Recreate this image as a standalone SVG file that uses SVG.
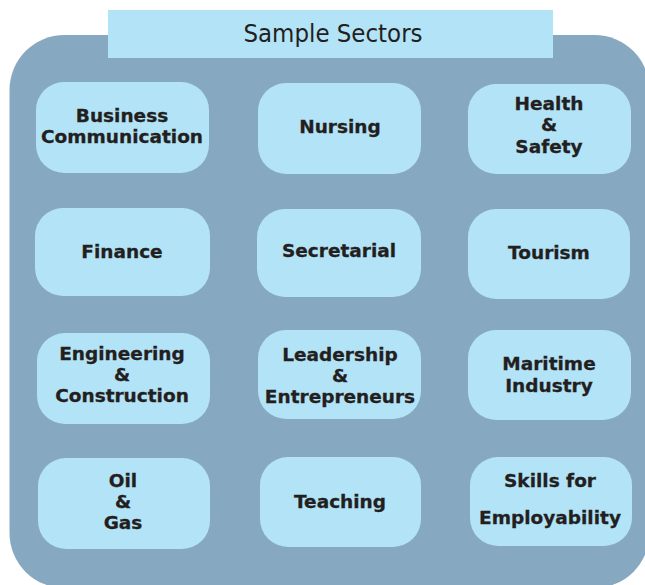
<svg xmlns="http://www.w3.org/2000/svg" width="645" height="585" viewBox="0 0 645 585">
<style>
.box{fill:#b3e3f7;}
.lbl{font-family:"DejaVu Sans","Verdana",sans-serif;font-weight:bold;font-size:18.5px;fill:#231f20;text-anchor:middle;stroke:#231f20;stroke-width:0.3px;}
.title{font-family:"DejaVu Sans Condensed","DejaVu Sans",sans-serif;font-size:25.5px;fill:#231f20;text-anchor:middle;}
</style>
<rect width="645" height="585" fill="#ffffff"/>
<g id="container">
<rect x="9.5" y="35" width="640" height="553" rx="55" ry="55" fill="#86a9c1"/>
</g>
<g id="title">
<rect x="108" y="10" width="445" height="48" class="box"/>
<text x="333" y="42" class="title">Sample Sectors</text>
</g>
<g id="connectors"></g>
<g id="business">
<rect x="36" y="82" width="173" height="91" rx="28" class="box"/>
<text x="122" y="122" class="lbl">Business</text>
<text x="122" y="143" class="lbl">Communication</text>
</g>
<g id="nursing">
<rect x="258" y="83" width="163" height="91" rx="28" class="box"/>
<text x="340" y="133" class="lbl">Nursing</text>
</g>
<g id="health">
<rect x="468" y="84" width="163" height="90" rx="28" class="box"/>
<text x="549" y="110" class="lbl">Health</text>
<text x="549" y="131" class="lbl">&amp;</text>
<text x="549" y="153" class="lbl">Safety</text>
</g>
<g id="finance">
<rect x="35" y="208" width="175" height="88" rx="28" class="box"/>
<text x="122" y="258" class="lbl">Finance</text>
</g>
<g id="secretarial">
<rect x="257" y="209" width="164" height="88" rx="28" class="box"/>
<text x="339" y="257" class="lbl">Secretarial</text>
</g>
<g id="tourism">
<rect x="468" y="209" width="162" height="90" rx="28" class="box"/>
<text x="549" y="259" class="lbl">Tourism</text>
</g>
<g id="engineering">
<rect x="37" y="333" width="173" height="91" rx="28" class="box"/>
<text x="122" y="360" class="lbl">Engineering</text>
<text x="122" y="381" class="lbl">&amp;</text>
<text x="122" y="402" class="lbl">Construction</text>
</g>
<g id="leadership">
<rect x="258" y="330" width="163" height="89" rx="28" class="box"/>
<text x="340" y="361" class="lbl">Leadership</text>
<text x="340" y="382" class="lbl">&amp;</text>
<text x="340" y="403" class="lbl">Entrepreneurs</text>
</g>
<g id="maritime">
<rect x="468" y="330" width="163" height="90" rx="28" class="box"/>
<text x="549" y="370" class="lbl">Maritime</text>
<text x="549" y="392" class="lbl">Industry</text>
</g>
<g id="oil">
<rect x="38" y="458" width="172" height="91" rx="28" class="box"/>
<text x="123" y="487" class="lbl">Oil</text>
<text x="123" y="508" class="lbl">&amp;</text>
<text x="123" y="529" class="lbl">Gas</text>
</g>
<g id="teaching">
<rect x="260" y="457" width="161" height="90" rx="28" class="box"/>
<text x="340" y="508" class="lbl">Teaching</text>
</g>
<g id="skills">
<rect x="470" y="457" width="162" height="89" rx="28" class="box"/>
<text x="550" y="487" class="lbl">Skills for</text>
<text x="550" y="524" class="lbl">Employability</text>
</g>
</svg>
